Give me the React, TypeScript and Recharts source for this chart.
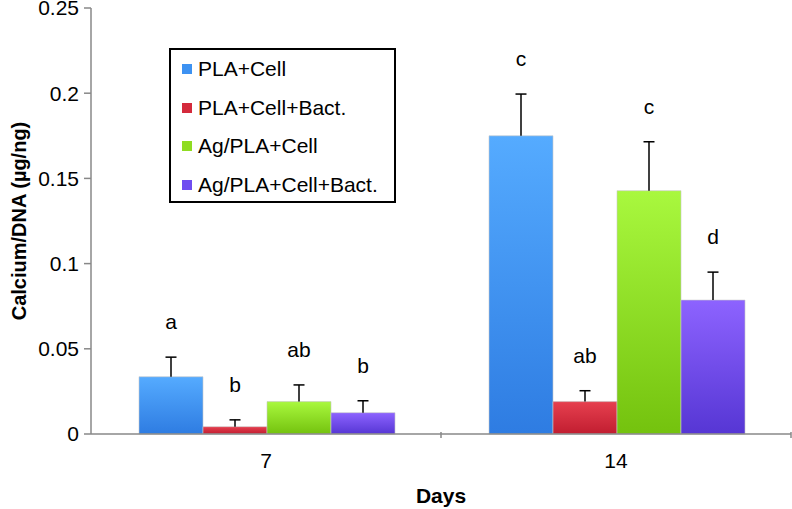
import React from 'react';
import {
  BarChart,
  Bar,
  XAxis,
  YAxis,
  LabelList,
} from 'recharts';

// Days of culture (categories on the x axis)
const days = ['7', '14'];

// Mean calcium/DNA values per group
const plaCell = [0.0336, 0.175];
const plaCellBact = [0.0043, 0.019];
const agPlaCell = [0.019, 0.1428];
const agPlaCellBact = [0.0125, 0.0786];

// Upper error (SD) per group
const plaCellErr = [0.0115, 0.0245];
const plaCellBactErr = [0.004, 0.0064];
const agPlaCellErr = [0.0098, 0.0287];
const agPlaCellBactErr = [0.007, 0.0164];

// Significance letters above each bar
const plaCellSig = ['a', 'c'];
const plaCellBactSig = ['b', 'ab'];
const agPlaCellSig = ['ab', 'c'];
const agPlaCellBactSig = ['b', 'd'];

const yTicks = [0, 0.05, 0.1, 0.15, 0.2, 0.25];

const FONT = '"Liberation Sans", Arial, Helvetica, sans-serif';

const series = [
  { key: 'plaCell', name: 'PLA+Cell', vals: plaCell, err: plaCellErr, sig: plaCellSig, top: '#55abff', bottom: '#2e7ce2', swatch: '#3d92f2' },
  { key: 'plaCellBact', name: 'PLA+Cell+Bact.', vals: plaCellBact, err: plaCellBactErr, sig: plaCellBactSig, top: '#e6404f', bottom: '#c11d30', swatch: '#d42a3c' },
  { key: 'agPlaCell', name: 'Ag/PLA+Cell', vals: agPlaCell, err: agPlaCellErr, sig: agPlaCellSig, top: '#a9f83e', bottom: '#74c20e', swatch: '#8fdc22' },
  { key: 'agPlaCellBact', name: 'Ag/PLA+Cell+Bact.', vals: agPlaCellBact, err: agPlaCellBactErr, sig: agPlaCellBactSig, top: '#8d63ff', bottom: '#5636d4', swatch: '#6f4cf0' },
];

// table for recharts: one row per day
const data = days.map((d, i) => {
  const row: any = { day: d };
  series.forEach((s) => {
    row[s.key] = s.vals[i];
  });
  return row;
});

// x tick: label at the band centre, tick mark at the band's right edge
const DayTick = (props: any) => {
  const { x, y, payload } = props;
  const half = payload.offset || 0;
  return (
    <g>
      <line x1={x + half} y1={y - 10} x2={x + half} y2={y - 4} stroke="#888" strokeWidth={1.5} />
      <text x={x} y={y + 26} textAnchor="middle" fontFamily={FONT} fontSize={21} fill="#000">
        {payload.value}
      </text>
    </g>
  );
};

const YTitle = (props: any) => {
  const { viewBox } = props;
  const cx = 19;
  const cy = viewBox.y + viewBox.height / 2;
  return (
    <text
      x={cx}
      y={cy}
      transform={`rotate(-90, ${cx}, ${cy})`}
      textAnchor="middle"
      dominantBaseline="central"
      fontFamily={FONT}
      fontSize={20}
      fontWeight="bold"
      fill="#000"
    >
      Calcium/DNA (µg/ng)
    </text>
  );
};

// boxed legend drawn over the plot, top-left
const LegendBox = () => (
  <div
    style={{
      position: 'absolute',
      left: 169,
      top: 48,
      width: 223,
      height: 151,
      border: '2px solid #000',
      background: '#fff',
      fontFamily: FONT,
      fontSize: 21,
      boxSizing: 'content-box',
    }}
  >
    {series.map((s) => (
      <div key={s.key} style={{ display: 'flex', alignItems: 'center', height: 38.5, paddingLeft: 11 }}>
        <span style={{ width: 10, height: 10, background: s.swatch, marginRight: 6, display: 'inline-block' }} />
        <span>{s.name}</span>
      </div>
    ))}
  </div>
);

// upper-only error whisker + significance letter, scaled from the bar itself
const makeSig = (s: (typeof series)[number]) => (p: any) => {
  const { x, y, width, height, index } = p;
  const v = s.vals[index];
  const pxPerUnit = v ? height / v : 0;
  const errTop = y - s.err[index] * pxPerUnit;
  const cx = x + width / 2;
  return (
    <g>
      <line x1={cx} y1={y} x2={cx} y2={errTop} stroke="#000" strokeWidth={1.5} />
      <line x1={cx - 5.5} y1={errTop} x2={cx + 5.5} y2={errTop} stroke="#000" strokeWidth={1.5} />
      <text x={cx} y={errTop - 28} textAnchor="middle" fontFamily={FONT} fontSize={21} fill="#000">
        {s.sig[index]}
      </text>
    </g>
  );
};

export default function App() {
  return (
    <div style={{ position: 'absolute', left: 0, top: 0, width: 792, height: 509, background: '#fff' }}>
      <BarChart
        width={792}
        height={509}
        data={data}
        margin={{ top: 8, right: 1, bottom: 0, left: 0 }}
        barCategoryGap={48}
        barGap={0}
      >
        <defs>
          {series.map((s) => (
            <linearGradient key={s.key} id={`grad-${s.key}`} x1="0" y1="0" x2="0" y2="1">
              <stop offset="0%" stopColor={s.top} />
              <stop offset="100%" stopColor={s.bottom} />
            </linearGradient>
          ))}
        </defs>
        <XAxis
          dataKey="day"
          height={75}
          tickLine={false}
          axisLine={{ stroke: '#888', strokeWidth: 1.5 }}
          tick={<DayTick />}
          interval={0}
          label={{ value: 'Days', position: 'insideBottom', offset: 6, fontFamily: FONT, fontSize: 21, fontWeight: 'bold', fill: '#000' }}
        />
        <YAxis
          width={91}
          domain={[0, 0.25]}
          ticks={yTicks}
          interval={0}
          tickSize={7}
          tickMargin={5}
          axisLine={{ stroke: '#888', strokeWidth: 1.5 }}
          tickLine={{ stroke: '#888', strokeWidth: 1.5 }}
          tick={{ fontFamily: FONT, fontSize: 21, fill: '#000' }}
          label={<YTitle />}
        />
        {series.map((s) => (
          <Bar
            key={s.key}
            dataKey={s.key}
            name={s.name}
            fill={`url(#grad-${s.key})`}
            stroke="rgba(200,200,200,0.6)"
            strokeWidth={1}
            isAnimationActive={false}
          >
            <LabelList dataKey={s.key} content={makeSig(s)} />
          </Bar>
        ))}
      </BarChart>
      <LegendBox />
    </div>
  );
}
